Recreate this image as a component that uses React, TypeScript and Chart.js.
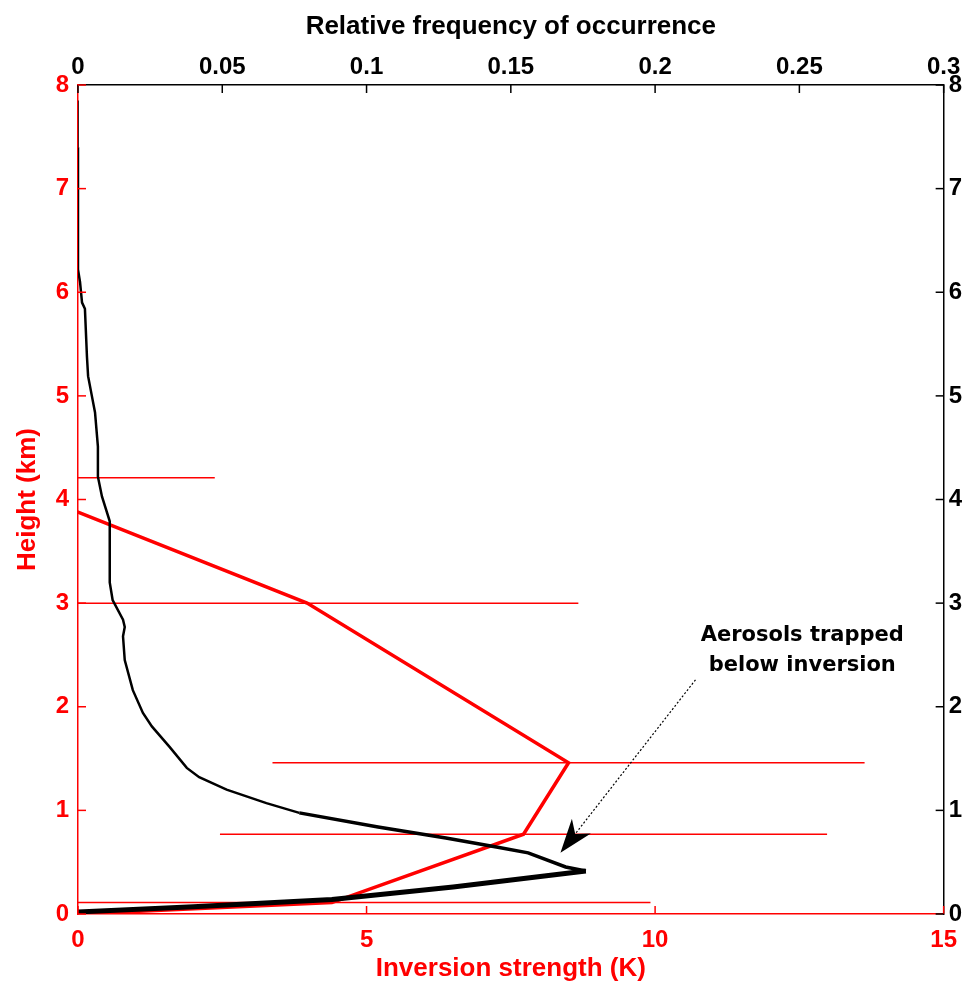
import React, { useEffect, useRef } from 'react';
import { Chart, registerables } from 'chart.js';

Chart.register(...registerables);

// ---- Data ----
const bottomTitle = 'Inversion strength (K)';
const topTitle = 'Relative frequency of occurrence';
const leftTitle = 'Height (km)';
const annotationLines = ['Aerosols trapped', 'below inversion'];

// Inversion strength profile (red) with std-dev bars
const invHeights = [0, 0.11, 0.77, 1.46, 3.0, 4.21];
const invStrength = [0, 4.4, 7.72, 8.5, 3.97, -1.5];
const invStd = [0, 5.52, 5.26, 5.13, 4.7, 3.87];

// Relative frequency of occurrence of aerosol (black)
const freqHeights = [0.02, 0.07, 0.14, 0.26, 0.415, 0.454, 0.59, 0.647, 0.734, 0.84, 0.976, 1.07, 1.2, 1.32, 1.41, 1.61, 1.81, 1.94, 2.16, 2.45, 2.68, 2.77, 2.84, 3.03, 3.2, 3.79, 4.03, 4.22, 4.51, 4.84, 5.0, 5.19, 5.38, 5.84, 5.9, 6.1, 6.22, 7.4, 7.85];
const freqValues = [0, 0.04, 0.088, 0.13, 0.176, 0.169, 0.156, 0.145, 0.1275, 0.104, 0.0767, 0.0653, 0.0515, 0.042, 0.0377, 0.0318, 0.0256, 0.0225, 0.019, 0.0162, 0.0156, 0.0162, 0.0156, 0.012, 0.011, 0.011, 0.0083, 0.0069, 0.0069, 0.0059, 0.0048, 0.0035, 0.0031, 0.0024, 0.0014, 0.0007, 0, 0, 0];

// Annotation anchor (data units: inversion strength K, height km)
const annotationText = { x: 12.55, y: 2.69 };
const arrowFrom = { x: 10.7, y: 2.26 };
const arrowTo = { x: 8.36, y: 0.59 };

const RED = '#ff0000';
const BLACK = '#000000';
const FONT = "'Liberation Sans', Arial, sans-serif";

const W = 969;
const H = 987;
const AREA = { left: 78, right: 946, top: 85, bottom: 914 };

const insideTicks = {
  id: 'insideTicks',
  afterDatasetsDraw(chart: any) {
    const ctx = chart.ctx;
    const { x, x2, y, y2 } = chart.scales;
    const ca = chart.chartArea;
    const L = 8;
    ctx.save();
    ctx.lineWidth = 1.5;
    const drawSet = (scale: any, color: string, fn: (p: number) => [number, number, number, number]) => {
      ctx.strokeStyle = color;
      scale.ticks.forEach((t: any) => {
        const p = scale.getPixelForValue(t.value);
        const [a, b, c, d] = fn(p);
        ctx.beginPath();
        ctx.moveTo(a, b);
        ctx.lineTo(c, d);
        ctx.stroke();
      });
    };
    drawSet(x, RED, (p) => [p, ca.bottom, p, ca.bottom - L]);
    drawSet(x2, BLACK, (p) => [p, ca.top, p, ca.top + L]);
    drawSet(y, RED, (p) => [ca.left, p, ca.left + L, p]);
    drawSet(y2, BLACK, (p) => [ca.right, p, ca.right - L, p]);

    // annotation
    const tx = x.getPixelForValue(annotationText.x);
    const ty = y.getPixelForValue(annotationText.y);
    ctx.fillStyle = BLACK;
    ctx.font = "bold 21px 'DejaVu Sans', sans-serif";
    ctx.textAlign = 'center';
    ctx.textBaseline = 'middle';
    annotationLines.forEach((s, i) => ctx.fillText(s, tx, ty + i * 30));

    const sx = x.getPixelForValue(arrowFrom.x);
    const sy = y.getPixelForValue(arrowFrom.y);
    const ex = x.getPixelForValue(arrowTo.x);
    const ey = y.getPixelForValue(arrowTo.y);
    const dx = ex - sx;
    const dy = ey - sy;
    const len = Math.hypot(dx, dy);
    const ux = dx / len;
    const uy = dy / len;
    const nx = -uy;
    const ny = ux;
    ctx.strokeStyle = BLACK;
    ctx.lineWidth = 1.2;
    ctx.setLineDash([2, 2]);
    ctx.beginPath();
    ctx.moveTo(sx, sy);
    ctx.lineTo(ex - ux * 22, ey - uy * 22);
    ctx.stroke();
    ctx.setLineDash([]);
    const HL = 34;
    const HW = 12;
    ctx.beginPath();
    ctx.moveTo(ex, ey);
    ctx.lineTo(ex - ux * HL + nx * HW, ey - uy * HL + ny * HW);
    ctx.lineTo(ex - ux * 24, ey - uy * 24);
    ctx.lineTo(ex - ux * HL - nx * HW, ey - uy * HL - ny * HW);
    ctx.closePath();
    ctx.fill();
    ctx.restore();
  },
};

export default function App() {
  const ref = useRef<HTMLCanvasElement | null>(null);

  useEffect(() => {
    if (!ref.current) return;
    const redLine = invHeights.map((h, i) => ({ x: invStrength[i], y: h }));
    const blackLine = freqHeights.map((h, i) => ({ x: freqValues[i], y: h }));
    const bars = invHeights
      .map((h, i) => ({ h, c: invStrength[i], e: invStd[i] }))
      .filter((b) => b.e > 0)
      .map((b) => ({
        type: 'line' as const,
        data: [
          { x: b.c - b.e, y: b.h },
          { x: b.c + b.e, y: b.h },
        ],
        xAxisID: 'x',
        yAxisID: 'y',
        borderColor: RED,
        borderWidth: 1.5,
        pointRadius: 0,
        fill: false,
        clip: 0,
        order: 3,
      }));

    const tickFont = { family: FONT, size: 24, weight: 'bold' as const };
    const titleFont = { family: FONT, size: 26, weight: 'bold' as const };

    const chart = new Chart(ref.current, {
      type: 'line',
      data: {
        datasets: [
          {
            data: blackLine,
            xAxisID: 'x2',
            yAxisID: 'y',
            borderColor: BLACK,
            borderWidth: 2.5,
            pointRadius: 0,
            fill: false,
            tension: 0,
            order: 0,
            segment: {
              borderWidth: (c: any) => {
                const h = c.p0.parsed.y;
                if (h < 0.41) return 5;
                if (h < 0.95) return 3.5;
                if (h > 7.3) return 1.5;
                return 2.5;
              },
            },
          } as any,
          {
            data: redLine,
            xAxisID: 'x',
            yAxisID: 'y',
            borderColor: RED,
            borderWidth: 3.5,
            pointRadius: 0,
            fill: false,
            tension: 0,
            clip: 0,
            order: 1,
          } as any,
          ...(bars as any[]),
        ],
      },
      options: {
        animation: false,
        responsive: false,
        maintainAspectRatio: false,
        layout: { padding: 0 },
        plugins: { legend: { display: false }, tooltip: { enabled: false } },
        scales: {
          x: {
            type: 'linear',
            position: 'bottom',
            min: 0,
            max: 15,
            ticks: { stepSize: 5, color: RED, font: tickFont, padding: 12, maxRotation: 0 },
            grid: { display: false, drawTicks: false },
            border: { display: true, color: RED, width: 1.5 },
            title: { display: true, text: bottomTitle, color: RED, font: titleFont, padding: { top: 0, bottom: 3 } },
            afterFit: (s: any) => { s.height = H - AREA.bottom; },
          },
          x2: {
            type: 'linear',
            position: 'top',
            min: 0,
            max: 0.3,
            ticks: {
              stepSize: 0.05,
              color: BLACK,
              font: tickFont,
              padding: 3,
              maxRotation: 0,
              callback: (v: any) => String(Number(Number(v).toFixed(2))),
            },
            grid: { display: false, drawTicks: false },
            border: { display: true, color: BLACK, width: 1.5 },
            title: { display: true, text: topTitle, color: BLACK, font: titleFont, padding: { top: 11, bottom: 0 } },
            afterFit: (s: any) => { s.height = AREA.top; },
          },
          y: {
            type: 'linear',
            position: 'left',
            min: 0,
            max: 8,
            ticks: { stepSize: 1, color: RED, font: tickFont, padding: 9 },
            grid: { display: false, drawTicks: false },
            border: { display: true, color: RED, width: 1.5 },
            title: { display: true, text: leftTitle, color: RED, font: titleFont, padding: { top: 12, bottom: 0 } },
            afterFit: (s: any) => { s.width = AREA.left; },
          },
          y2: {
            type: 'linear',
            position: 'right',
            min: 0,
            max: 8,
            ticks: { stepSize: 1, color: BLACK, font: tickFont, padding: 5 },
            grid: { display: false, drawTicks: false },
            border: { display: true, color: BLACK, width: 1.5 },
            afterFit: (s: any) => { s.width = W - AREA.right; },
          },
        },
      } as any,
      plugins: [insideTicks],
    });
    return () => chart.destroy();
  }, []);

  return (
    <div style={{ position: 'fixed', left: 0, top: 0, width: W, height: H, background: '#fff' }}>
      <canvas ref={ref} width={W} height={H} style={{ width: W, height: H, display: 'block' }} />
    </div>
  );
}
